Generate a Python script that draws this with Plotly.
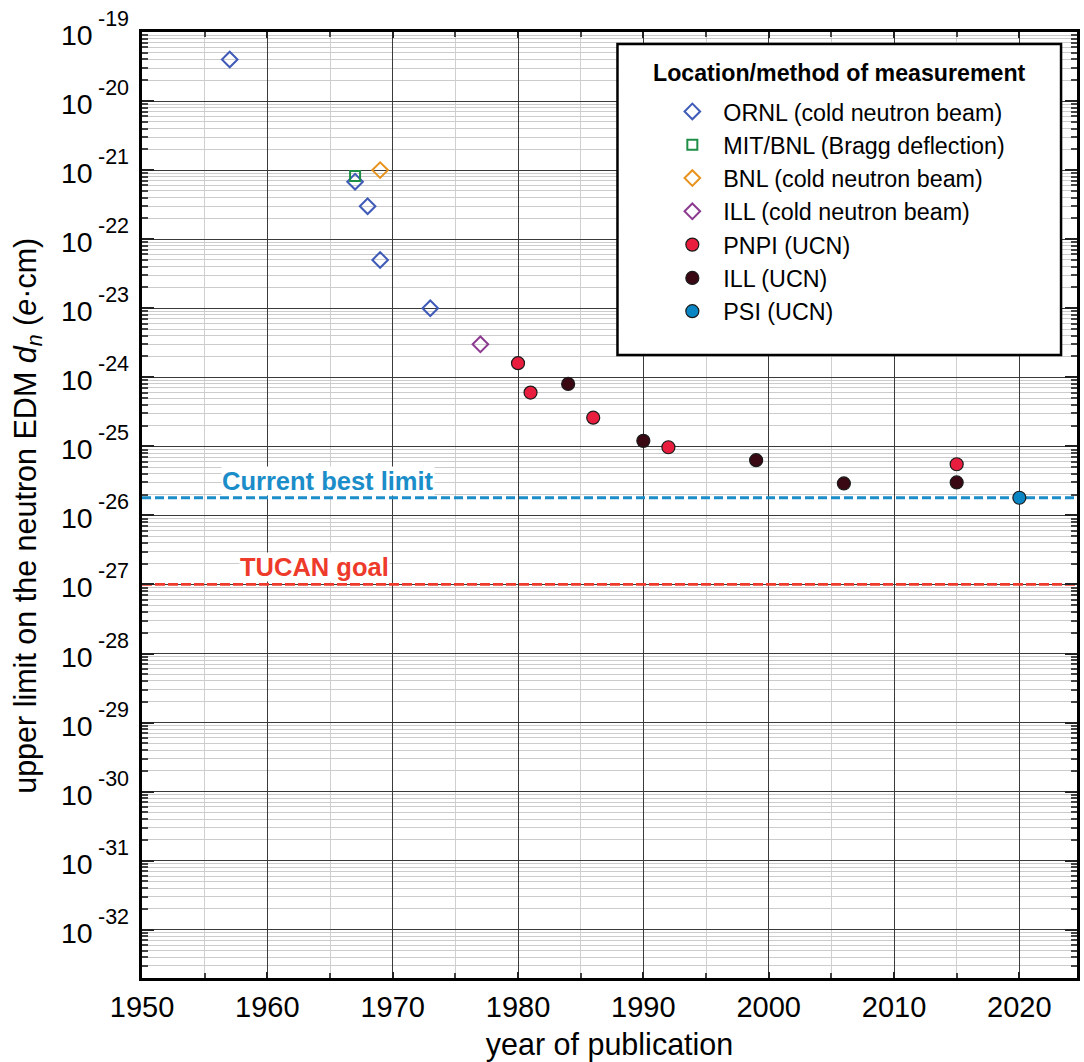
import numpy as np
import plotly.graph_objects as go

# ---------------- data ----------------
series_names = [
    "ORNL (cold neutron beam)",
    "MIT/BNL (Bragg deflection)",
    "BNL (cold neutron beam)",
    "ILL (cold neutron beam)",
    "PNPI (UCN)",
    "ILL (UCN)",
    "PSI (UCN)",
]
ornl_years = [1957, 1967, 1968, 1969, 1973]
ornl_vals = [4.0e-20, 6.8e-22, 3.0e-22, 5.0e-23, 1.0e-23]
mit_years = [1967]
mit_vals = [8.2e-22]
bnl_years = [1969]
bnl_vals = [1.0e-21]
illbeam_years = [1977]
illbeam_vals = [3.0e-24]
pnpi_years = [1980, 1981, 1986, 1992, 2015]
pnpi_vals = [1.6e-24, 6.0e-25, 2.6e-25, 9.7e-26, 5.5e-26]
illucn_years = [1984, 1990, 1999, 2006, 2015]
illucn_vals = [8.0e-25, 1.2e-25, 6.3e-26, 2.9e-26, 3.0e-26]
psi_years = [2020]
psi_vals = [1.8e-26]

best_limit = 1.8e-26
tucan_goal = 1.0e-27

x_tick_years = [1950, 1960, 1970, 1980, 1990, 2000, 2010, 2020]
y_exponents = list(range(-19, -33, -1))
y_tick_base = "10"
y_tick_sup = ["%d" % e for e in y_exponents]

XMIN, XMAX = 1950, 2024.6
YMIN, YMAX = 2e-33, 1e-19

FONT = "Liberation Sans, Arial, Helvetica, sans-serif"

# ---------------- styles ----------------
open_styles = [
    ("diamond-open", "#3F5BB7", 12),
    ("square-open", "#1E8E46", 10),
    ("diamond-open", "#E8921E", 12),
    ("diamond-open", "#8C3A90", 12),
]
filled_styles = ["#E91E3F", "#3A0813", "#0B86C4"]

fig = go.Figure()

# reference lines
fig.add_trace(go.Scatter(
    x=[XMIN, XMAX], y=[best_limit, best_limit], mode="lines",
    line=dict(color="#1B8DC9", width=2.8, dash="9px,4px"),
    showlegend=False, hoverinfo="skip"))
fig.add_trace(go.Scatter(
    x=[XMIN, XMAX], y=[tucan_goal, tucan_goal], mode="lines",
    line=dict(color="#EE3A2A", width=2.8, dash="10px,3px"),
    showlegend=False, hoverinfo="skip"))

data_open = [(ornl_years, ornl_vals), (mit_years, mit_vals),
             (bnl_years, bnl_vals), (illbeam_years, illbeam_vals)]
for i, ((xs, ys), (sym, col, sz)) in enumerate(zip(data_open, open_styles)):
    fig.add_trace(go.Scatter(
        x=xs, y=ys, mode="markers", name=series_names[i],
        legendgroup="g%d" % i,
        marker=dict(symbol=sym, size=sz, color=col, line=dict(color=col, width=2)),
    ))

data_filled = [(pnpi_years, pnpi_vals), (illucn_years, illucn_vals), (psi_years, psi_vals)]
for j, ((xs, ys), col) in enumerate(zip(data_filled, filled_styles)):
    i = j + 4
    fig.add_trace(go.Scatter(
        x=xs, y=ys, mode="markers", name=series_names[i],
        legendgroup="g%d" % i,
        marker=dict(symbol="circle", size=13, color=col, line=dict(color="#1a1a1a", width=1.2)),
    ))

# minor tick values for log axis
minor_vals = []
for e in range(-33, -19):
    for k in range(2, 10):
        minor_vals.append(k * 10.0 ** e)

fig.update_xaxes(
    range=[XMIN, XMAX], tickmode="array", tickvals=x_tick_years,
    ticks="inside", ticklen=6, tickwidth=1.5, tickcolor="#222",
    showgrid=True, gridcolor="#3a3a3a", gridwidth=1.4,
    showline=True, linecolor="black", linewidth=2.5, mirror="allticks",
    tickfont=dict(size=29, family=FONT, color="black"),
    ticklabelstandoff=1,
    minor=dict(dtick=5, tick0=1950, ticks="inside", ticklen=5, tickcolor="#444",
               showgrid=True, gridcolor="#cfcfcf", gridwidth=1.2),
    title=dict(text="year of publication", font=dict(size=30.5, family=FONT, color="black"),
               standoff=14),
    zeroline=False,
)
fig.update_yaxes(
    type="log", range=[np.log10(YMIN), np.log10(YMAX)],
    tickmode="array", tickvals=[10.0 ** e for e in y_exponents], showticklabels=False,
    ticks="inside", ticklen=12, tickwidth=1.5, tickcolor="#222",
    showgrid=True, gridcolor="#3a3a3a", gridwidth=1.4,
    showline=True, linecolor="black", linewidth=2.5, mirror="allticks",
    minor=dict(tickmode="array", tickvals=minor_vals, ticks="inside", ticklen=6,
               tickcolor="#444", showgrid=True, gridcolor="#cccccc", gridwidth=1.1),
    zeroline=False,
)

# y tick labels: 10 with raised exponent
for e, sup in zip(y_exponents, y_tick_sup):
    fig.add_annotation(text=y_tick_base, xref="paper", yref="y", x=0, y=e,
                       xanchor="right", yanchor="middle", xshift=-47, yshift=-3,
                       showarrow=False, font=dict(size=28.5, family=FONT, color="black"))
    fig.add_annotation(text=sup, xref="paper", yref="y", x=0, y=e,
                       xanchor="left", yanchor="middle", xshift=-46, yshift=13,
                       showarrow=False, font=dict(size=21.5, family=FONT, color="black"))

# y axis title
fig.add_annotation(text="upper limit on the neutron EDM <i>d<sub>n</sub></i> (<i>e</i>·cm)",
                   xref="paper", yref="paper", x=(27 - 142) / 938, y=1 - (517 - 32) / 949,
                   xanchor="center", yanchor="middle", textangle=-90, showarrow=False,
                   font=dict(size=30.5, family=FONT, color="black"))

# legend box
fig.add_shape(type="rect", xref="paper", yref="paper",
              x0=(619 - 142) / 938, x1=(1064 - 142) / 938,
              y0=1 - (356 - 32) / 949, y1=1 - (44 - 32) / 949,
              fillcolor="white", line=dict(color="black", width=2.5), layer="above")

fig.add_annotation(text="<b>Location/method of measurement</b>", xref="paper", yref="paper",
                   x=(842 - 142) / 938, y=1 - (73 - 32) / 949, showarrow=False,
                   xanchor="center", yanchor="middle",
                   font=dict(size=23.2, family=FONT, color="black"))

fig.add_annotation(text="<b>Current best limit</b>",
                   x=XMIN + (329 - 142) / 938 * (XMAX - XMIN), y=np.log10(best_limit),
                   xref="x", yref="y", showarrow=False, xanchor="center", yanchor="bottom",
                   yshift=2, borderpad=0, bgcolor="white",
                   font=dict(size=25.5, family=FONT, color="#1B8DC9"))
fig.add_annotation(text="<b>TUCAN goal</b>",
                   x=XMIN + (315 - 142) / 938 * (XMAX - XMIN), y=np.log10(tucan_goal),
                   xref="x", yref="y", showarrow=False, xanchor="center", yanchor="bottom",
                   yshift=2, borderpad=0, bgcolor="white",
                   font=dict(size=25.5, family=FONT, color="#EE3A2A"))

fig.update_layout(
    width=1084, height=1062,
    margin=dict(l=142, r=4, t=32, b=81),
    paper_bgcolor="white", plot_bgcolor="white",
    font=dict(family=FONT, color="black"),
    showlegend=True,
    legend=dict(x=(663 - 142) / 938, y=1 - (90 - 32) / 949, xanchor="left", yanchor="top",
                bgcolor="rgba(0,0,0,0)", borderwidth=0, itemwidth=52,
                tracegroupgap=0, font=dict(size=23.3, family=FONT, color="black")),
)

fig.write_html("out.html")
